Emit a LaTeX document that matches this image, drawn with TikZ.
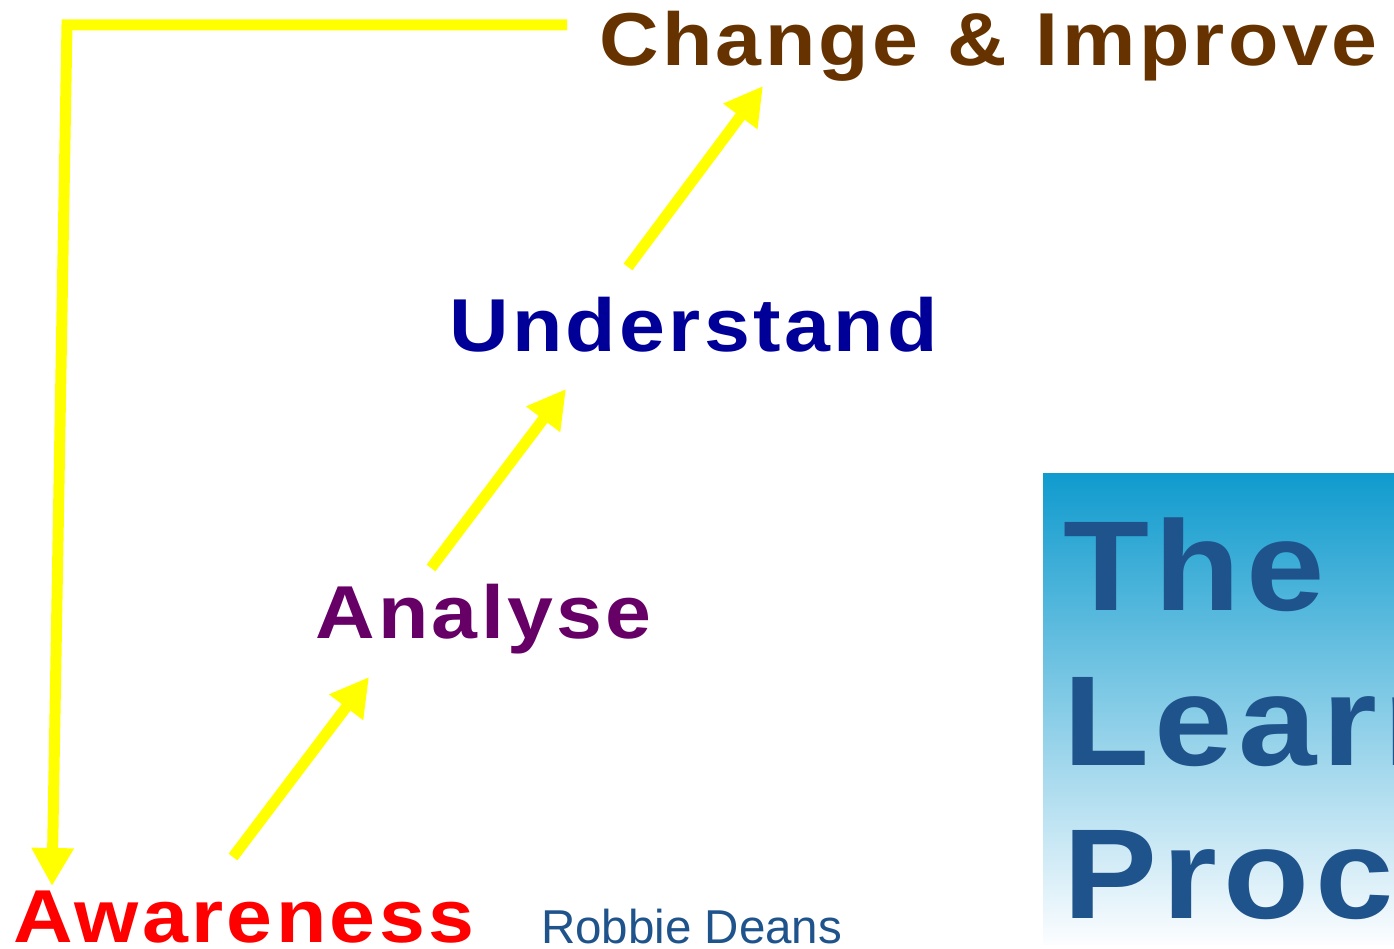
\documentclass[tikz,border=0pt]{standalone}
\usepackage{fontspec}
\setmainfont{Liberation Sans}
\newfontfamily\lblfont[FakeStretch=1.1,LetterSpace=4.5,WordSpace=1.1]{Liberation Sans}
\usepackage{xcolor}
\usetikzlibrary{arrows.meta,positioning,calc}

\definecolor{ylw}{RGB}{255,255,0}
\definecolor{clrCh}{RGB}{102,51,0}
\definecolor{clrUn}{RGB}{0,0,153}
\definecolor{clrAn}{RGB}{102,0,102}
\definecolor{clrAw}{RGB}{255,0,0}
\definecolor{clrTl}{RGB}{31,83,140}
\definecolor{ttlTop}{RGB}{16,155,206}
\definecolor{ttlMid}{RGB}{160,195,223}
\definecolor{ttlBot}{RGB}{252,253,255}

\begin{document}
\begin{tikzpicture}[x=1pt,y=1pt,
  lbl/.style={inner sep=0pt,anchor=base west,font=\lblfont\bfseries\fontsize{75}{90}\selectfont},
  ttl/.style={inner sep=0pt,anchor=base west,text=clrTl,font=\lblfont\bfseries\fontsize{128}{154}\selectfont},
  arr/.style={-{Triangle[length=38pt,width=40pt]},line width=11pt,draw=ylw},
  >=Stealth]
\useasboundingbox (0,0) rectangle (1394,948);
\clip (0,0) rectangle (1394,948);
% title panel
\shade[top color=ttlTop,middle color=ttlMid,bottom color=ttlBot] (1043,4) rectangle (1394,474);
\foreach \ln/\y [count=\i] in {The/337,Learning/183,Process/30}
  \node[ttl] (ttl\i) at (1063,\y) {\ln};
% the four steps
\node[lbl,text=clrCh] (lbCh) at (599,882) {Change \& Improve};
\node[lbl,text=clrUn] (lbUn) at (449,596) {Understand};
\node[lbl,text=clrAn] (lbAn) at (315,309) {Analyse};
\node[lbl,text=clrAw] (lbAw) at (13,6) {Awareness};
\node[inner sep=0pt,anchor=base west,text=clrTl,font=\fontsize{47.5}{57}\selectfont] (lbRD) at (541,5) {Robbie Deans};
% step arrows
\draw[arr] ($(lbAw.base west)+(220,85)$) -- ($(lbAn.base west)+(54,-38)$);
\draw[arr] ($(lbAn.base west)+(116,71)$) -- ($(lbUn.base west)+(117,-37)$);
\draw[arr] ($(lbUn.base west)+(179,85)$) -- ($(lbCh.base west)+(164,-20)$);
% loop back
\coordinate (fbTop) at (67,923);
\draw[arr,line join=miter] ($(lbCh.base west)+(-32,41)$) -- (fbTop) -- ($(lbAw.base west)+(39,56)$);
\end{tikzpicture}
\end{document}
